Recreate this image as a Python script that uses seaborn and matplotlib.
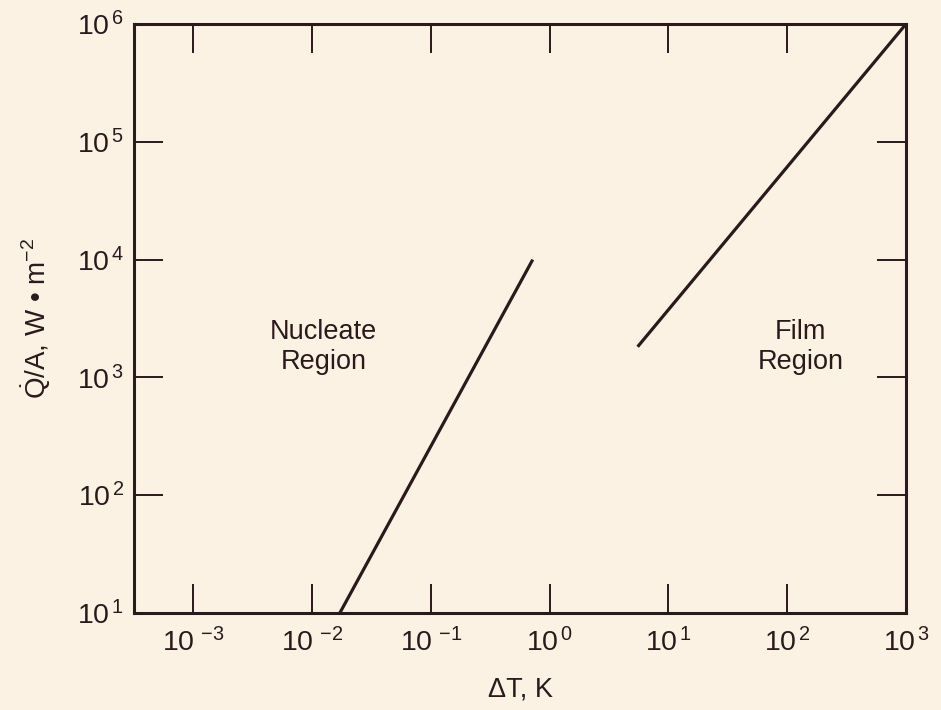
import numpy as np
import pandas as pd
import matplotlib
matplotlib.use("Agg")
import matplotlib.pyplot as plt
import matplotlib.ticker as mticker
import seaborn as sns

# Boiling curve segments (temperature difference in K, heat flux in W/m^2)
nucleate_dT = [0.0171, 0.72]
nucleate_q = [10.0, 1.0e4]
film_dT = [5.5, 1000.0]
film_q = [1820.0, 1.0e6]

x_ticks = [1e-3, 1e-2, 1e-1, 1e0, 1e1, 1e2, 1e3]
y_ticks = [1e1, 1e2, 1e3, 1e4, 1e5, 1e6]

bg = "#fbf2e4"
ink = "#2b1a1c"

sns.set_theme(style="ticks")
plt.rcParams["font.family"] = ["Liberation Sans", "DejaVu Sans"]
plt.rcParams["mathtext.fontset"] = "custom"
plt.rcParams["mathtext.rm"] = "Liberation Sans"
plt.rcParams["mathtext.it"] = "Liberation Sans"
plt.rcParams["mathtext.bf"] = "Liberation Sans:bold"

fig = plt.figure(figsize=(9.41, 7.10), dpi=100, facecolor=bg)
ax = fig.add_axes([134 / 941, 97 / 710, 772 / 941, 589 / 710])
ax.set_facecolor(bg)

nuc = pd.DataFrame({"dT": nucleate_dT, "q": nucleate_q})
film = pd.DataFrame({"dT": film_dT, "q": film_q})
sns.lineplot(data=nuc, x="dT", y="q", ax=ax, color=ink, lw=2.3, solid_capstyle="butt")
sns.lineplot(data=film, x="dT", y="q", ax=ax, color=ink, lw=2.3, solid_capstyle="butt")

ax.set_xscale("log")
ax.set_yscale("log")
ax.set_xlim(10 ** -3.5, 1e3)
ax.set_ylim(1e1, 1e6)

ax.xaxis.set_major_locator(mticker.FixedLocator(x_ticks))
ax.yaxis.set_major_locator(mticker.FixedLocator(y_ticks))
ax.xaxis.set_minor_locator(mticker.NullLocator())
ax.yaxis.set_minor_locator(mticker.NullLocator())

def pow_label(v, pos):
    e = int(round(np.log10(v)))
    return r"$\mathregular{10^{\,%s}}$" % (r"-\!%d" % -e if e < 0 else str(e))

ax.xaxis.set_major_formatter(mticker.FuncFormatter(pow_label))
ax.yaxis.set_major_formatter(mticker.FuncFormatter(pow_label))

ax.tick_params(axis="both", which="major", direction="in", length=21, width=1.4,
               color=ink, labelcolor=ink, labelsize=20.5, top=True, right=True)
ax.tick_params(axis="x", pad=11)
ax.tick_params(axis="y", pad=7)

for s in ax.spines.values():
    s.set_color(ink)
    s.set_linewidth(2.2)

ax.set_xlabel("ΔT, K", fontsize=19.5, color=ink, labelpad=14)
ax.set_ylabel(r"$\mathregular{\dot{Q}}$/A, W • m$^{-2}$", fontsize=20, color=ink, labelpad=17)

ax.text(10 ** -1.905, 10 ** 3.26, "Nucleate\nRegion", ha="center", va="center",
        fontsize=19.5, color=ink, linespacing=1.2)
ax.text(10 ** 2.115, 10 ** 3.26, "Film\nRegion", ha="center", va="center",
        fontsize=19.5, color=ink, linespacing=1.2)

fig.savefig("out.png", dpi=100, facecolor=bg)
